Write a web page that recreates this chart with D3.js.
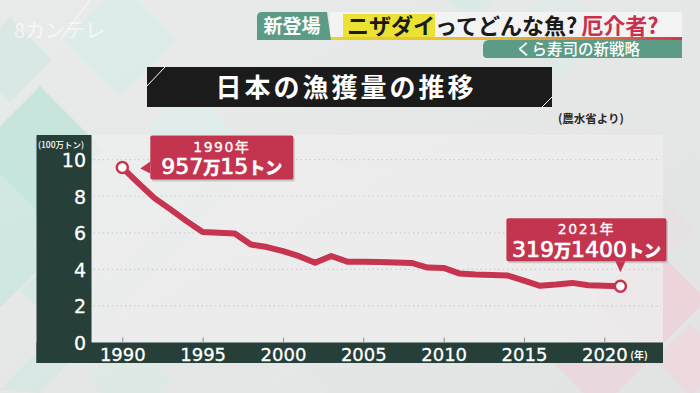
<!DOCTYPE html>
<html><head><meta charset="utf-8">
<script src="https://cdn.jsdelivr.net/npm/d3@7"></script>
<style>html,body{margin:0;padding:0;background:#e5e7e7;overflow:hidden}svg{display:block}</style>
</head><body>
<script>
// ---- data (million tonnes, Japan marine fishery catch) ----
const years = [1990,1991,1992,1993,1994,1995,1996,1997,1998,1999,2000,2001,2002,2003,2004,2005,2006,2007,2008,2009,2010,2011,2012,2013,2014,2015,2016,2017,2018,2019,2020,2021];
const catchValues = [9.57,8.72,7.9,7.28,6.64,6.05,6.0,5.96,5.36,5.22,5.0,4.72,4.36,4.73,4.42,4.42,4.41,4.38,4.35,4.1,4.08,3.77,3.72,3.69,3.66,3.38,3.1,3.17,3.26,3.13,3.1,3.08];
const yTicks = [0,2,4,6,8,10];
const xTicks = [1990,1995,2000,2005,2010,2015,2020];
const yUnit = "(100万トン)";
const xUnit = "(年)";
const title = "日本の漁獲量の推移";
const source = "(農水省より)";
const callouts = [
  {year:1990, line1:"1990年", big:[["957",0],["万",1],["15",0],["トン",1]]},
  {year:2021, line1:"2021年", big:[["319",0],["万",1],["1400",0],["トン",1]]}
];

const W=700,H=393;
const svg=d3.select("body").append("svg").attr("width",W).attr("height",H);
const defs=svg.append("defs");
const bg=defs.append("linearGradient").attr("id","bg").attr("x1",0).attr("y1",0).attr("x2",1).attr("y2",1);
bg.append("stop").attr("offset","0").attr("stop-color","#e9ebeb");
bg.append("stop").attr("offset","1").attr("stop-color","#e2e3e3");
svg.append("rect").attr("width",W).attr("height",H).attr("fill","url(#bg)");

// decorative diamonds
const deco=svg.append("g");
const diamonds=[
 [40,150,90,"#bfe2da",0.8],[0,230,110,"#c6e6df",0.7],[70,290,70,"#cfe9e3",0.6],[120,40,80,"#d5ece7",0.6],
 [10,60,60,"#cfe6e1",0.6],[190,130,60,"#dcefeb",0.6],[560,30,70,"#d9ecea",0.5],[470,-20,60,"#d3ebe6",0.6],
 [650,300,80,"#f2c9d3",0.6],[600,360,70,"#efd0d8",0.55],[690,360,50,"#f3d3db",0.6],[660,230,50,"#e9dde0",0.5],
 [130,380,60,"#d8ebe6",0.5],[290,390,50,"#e6e9ea",0.5]
];
diamonds.forEach(([cx,cy,s,c,o])=>{
  deco.append("rect").attr("x",-s/2).attr("y",-s/2).attr("width",s).attr("height",s)
   .attr("fill",c).attr("opacity",o).attr("transform",`translate(${cx},${cy}) rotate(45)`);
});
deco.append("path").attr("d","M0,390 L210,170 L250,170 L40,393Z").attr("fill","#cde8e1").attr("opacity",0.5);
deco.append("path").attr("d","M90,0 L60,40").attr("stroke","#fff").attr("stroke-width",1).attr("opacity",0.7);

// logo
svg.append("text").attr("x",14).attr("y",38).attr("fill","#ffffff").attr("opacity",0.6)
  .attr("font-family","Noto Sans CJK JP").attr("font-size",20).attr("font-weight",400).text("8カンテレ");

// header
const hdr=svg.append("g");
hdr.append("rect").attr("x",330).attr("y",12).attr("width",352).attr("height",27).attr("fill","#f3f3f3");
const hg=defs.append("linearGradient").attr("id","hg");
hg.append("stop").attr("offset","0").attr("stop-color","#e9d427");
hg.append("stop").attr("offset","0.5").attr("stop-color","#e8b733");
hg.append("stop").attr("offset","1").attr("stop-color","#d2344f");
hdr.append("rect").attr("x",330).attr("y",37).attr("width",352).attr("height",3).attr("fill","url(#hg)");
hdr.append("path").attr("d","M262,12 L327,12 L331,40 L257,40 L257,17 Q257,12 262,12Z").attr("fill","#5c9c87");
hdr.append("text").attr("x",292).attr("y",33).attr("text-anchor","middle").attr("fill","#fff")
  .attr("font-family","Noto Sans CJK JP").attr("font-weight",700).attr("font-size",19).text("新登場");
hdr.append("rect").attr("x",343).attr("y",14).attr("width",92).attr("height",23).attr("fill","#ece236");
const ht=hdr.append("text").attr("x",347).attr("y",34).attr("font-family","Noto Sans CJK JP").attr("font-weight",700).attr("font-size",22);
ht.append("tspan").attr("fill","#1a1a1a").text("ニザダイってどんな魚?");
ht.append("tspan").attr("fill","#c8304f").attr("dx",4).text("厄介者?");
hdr.append("path").attr("d","M489,40 L682,40 L682,58 L487,58 Q483,58 483,54 L483,46 Q483,40 489,40Z").attr("fill","#5c9c87");
hdr.append("text").attr("x",578).attr("y",55).attr("text-anchor","middle").attr("fill","#fff")
  .attr("font-family","Noto Sans CJK JP").attr("font-weight",500).attr("font-size",15.5).text("くら寿司の新戦略");

// title
svg.append("rect").attr("x",147).attr("y",67).attr("width",405).attr("height",40).attr("fill","#1b1b1b");
svg.append("path").attr("d","M147,86 L165,67").attr("stroke","#fff").attr("stroke-width",1);
svg.append("path").attr("d","M542,107 L552,97").attr("stroke","#fff").attr("stroke-width",1);
svg.append("text").attr("x",346).attr("y",97).attr("text-anchor","middle").attr("fill","#fff")
  .attr("font-family","Noto Sans CJK JP").attr("font-weight",700).attr("font-size",26).attr("letter-spacing",3).text(title);
svg.append("text").attr("x",558).attr("y",123).attr("fill","#2a2a2a")
  .attr("font-family","Noto Sans CJK JP").attr("font-weight",700).attr("font-size",11.5).text(source);

// scales
const x=d3.scaleLinear().domain([1990,2021]).range([122.3,620.4]);
const y=d3.scaleLinear().domain([0,10]).range([342.5,159.7]);

// plot panel
const plotL=91.5, plotR=663, plotT=135;
svg.append("rect").attr("x",plotL).attr("y",plotT).attr("width",plotR-plotL).attr("height",y(0)-plotT)
  .attr("fill","#eeeeee").attr("opacity",0.8);
// dark axis bands
svg.append("rect").attr("x",36.5).attr("y",135).attr("width",plotL-36.5).attr("height",363-135).attr("fill","#263f38");
svg.append("rect").attr("x",36.5).attr("y",y(0)).attr("width",plotR-36.5).attr("height",363-y(0)).attr("fill","#263f38");

// gridlines
svg.append("g").selectAll("line").data(yTicks.filter(d=>d>0)).join("line")
  .attr("x1",plotL+2).attr("x2",plotR-2).attr("y1",d=>y(d)).attr("y2",d=>y(d))
  .attr("stroke","#cfcfcf").attr("stroke-width",1.2).attr("stroke-dasharray","1.5,3");

// x tick marks
svg.append("g").attr("transform",`translate(0,${y(0)})`)
  .call(d3.axisTop(x).tickValues(xTicks).tickSize(5).tickFormat(""))
  .call(g=>g.select(".domain").remove())
  .call(g=>g.selectAll("line").attr("stroke","#8a8a8a"));
// x labels
const xa=svg.append("g").attr("transform",`translate(0,${y(0)})`)
  .call(d3.axisBottom(x).tickValues(xTicks).tickSize(0).tickPadding(5).tickFormat(d3.format("d")));
xa.select(".domain").remove();
xa.selectAll("text").attr("fill","#fff").attr("font-family","DejaVu Sans").attr("font-size",18)
  .attr("stroke","#fff").attr("stroke-width",0.3).attr("dy","0.75em");
svg.append("text").attr("x",x(2020)+26).attr("y",359).attr("fill","#fff")
  .attr("font-family","Noto Sans CJK JP").attr("font-weight",700).attr("font-size",10).text(xUnit);

// y labels
const ya=svg.append("g").attr("transform",`translate(86,0)`)
  .call(d3.axisLeft(y).tickValues(yTicks).tickSize(0).tickPadding(0));
ya.select(".domain").remove();
ya.selectAll("text").attr("fill","#fff").attr("font-family","DejaVu Sans").attr("font-size",19)
  .attr("stroke","#fff").attr("stroke-width",0.3).attr("dy","0.36em");
svg.append("text").attr("x",38).attr("y",148).attr("fill","#fff")
  .attr("font-family","Noto Sans CJK JP").attr("font-weight",500).attr("font-size",8.5).text(yUnit);

// line
const data=years.map((yr,i)=>({year:yr,v:catchValues[i]}));
svg.append("path").datum(data)
  .attr("d",d3.line().x(d=>x(d.year)).y(d=>y(d.v)))
  .attr("fill","none").attr("stroke","#c6344f").attr("stroke-width",6)
  .attr("stroke-linejoin","round").attr("stroke-linecap","round");
// end markers
const ends=[data[0],data[data.length-1]];
svg.append("g").selectAll("circle").data(ends).join("circle")
  .attr("cx",d=>x(d.year)).attr("cy",d=>y(d.v)).attr("r",5.5)
  .attr("fill","#fff").attr("stroke","#c6344f").attr("stroke-width",2.5);

// callouts
const cc="#c3354f";
function callout(c,box,ptr){
  const g=svg.append("g");
  g.append("rect").attr("x",box.x+1.5).attr("y",box.y+2).attr("width",box.w).attr("height",box.h).attr("rx",2)
    .attr("fill","#000").attr("opacity",0.15);
  g.append("rect").attr("x",box.x).attr("y",box.y).attr("width",box.w).attr("height",box.h).attr("rx",2).attr("fill",cc);
  g.append("path").attr("d",ptr).attr("fill",cc);
  const cx=box.x+box.w/2;
  g.append("text").attr("x",cx).attr("y",box.y+16).attr("text-anchor","middle").attr("fill","#fff")
    .attr("stroke","#fff").attr("stroke-width",0.3)
    .attr("font-family","DejaVu Sans, Noto Sans CJK JP").attr("font-size",14).attr("letter-spacing",1.5).text(c.line1);
  const t=g.append("text").attr("x",cx).attr("y",box.y+38.5).attr("text-anchor","middle").attr("fill","#fff")
    .attr("stroke","#fff").attr("stroke-width",0.7);
  c.big.forEach(([s,small])=>{
    t.append("tspan").attr("font-size",small?17:22).attr("font-family",small?"Noto Sans CJK JP":"DejaVu Sans")
      .attr("font-weight",small?700:400).text(s);
  });
}
const p0=data[0], p1=data[data.length-1];
{
  const px=x(p0.year), py=y(p0.v);
  const box={x:px+28,y:py-32,w:143,h:44};
  callout(callouts[0],box,`M${box.x},${py-6} L${px+18},${py+1} L${box.x},${py+6}Z`);
}
{
  const px=x(p1.year), py=y(p1.v);
  const box={x:px-114,y:py-68,w:160,h:43};
  callout(callouts[1],box,`M${px-5},${box.y+box.h} L${px},${py-14} L${px+5},${box.y+box.h}Z`);
}
</script>
</body></html>
